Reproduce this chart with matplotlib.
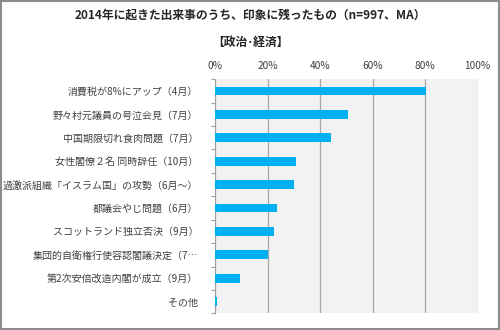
import matplotlib
matplotlib.use("Agg")
import matplotlib.pyplot as plt
from matplotlib.patches import Rectangle

plt.rcParams['font.family'] = ['Noto Sans CJK JP', 'DejaVu Sans']

# ─── DATA ─────────────────────────────────────────────────
categories = [
    "消費税が8%にアップ（4月）",
    "野々村元議員の号泣会見（7月）",
    "中国期限切れ食肉問題（7月）",
    "女性閣僚２名 同時辞任（10月）",
    "過激派組織「イスラム国」の攻勢（6月～）",
    "都議会やじ問題（6月）",
    "スコットランド独立否決（9月）",
    "集団的自衛権行使容認閣議決定（7…",
    "第2次安倍改造内閣が成立（9月）",
    "その他",
]
values = [80.3, 50.6, 44.0, 30.8, 30.2, 23.5, 22.6, 20.2, 9.6, 0.8]
xticks = [0, 20, 40, 60, 80, 100]
xtick_labels = [f"{t}%" for t in xticks]

title = "2014年に起きた出来事のうち、印象に残ったもの（n=997、MA）"
subtitle = "【政治･経済】"

BAR_COLOR = "#00b0f0"
TEXT_COLOR = "#404040"

# ─── PLOT ─────────────────────────────────────────────────
fig = plt.figure(figsize=(5, 3.3), dpi=100)
ax = fig.add_axes([0.43, 0.0506, 0.5254, 0.7091])
ax.set_facecolor("#f2f2f2")

ypos = list(range(len(categories)))
ax.barh(ypos, values, height=0.38, color=BAR_COLOR, zorder=3)

ax.set_xlim(0, 100)
ax.set_ylim(len(categories) - 0.5, -0.5)
ax.set_xticks(xticks)
ax.set_xticklabels(xtick_labels, fontsize=7.3, color=TEXT_COLOR)
ax.xaxis.tick_top()
ax.tick_params(axis="x", length=0, pad=6)

ax.set_yticks(ypos)
ax.set_yticklabels(categories, fontsize=7.2, color=TEXT_COLOR)
ax.set_yticks([i - 0.5 for i in range(len(categories) + 1)], minor=True)
ax.tick_params(axis="y", which="major", length=0, pad=12)
ax.tick_params(axis="y", which="minor", length=3, color="#a0a0a0", width=0.8)

ax.grid(axis="x", color="#a6a6a6", linewidth=0.9, zorder=1)
for side in ["top", "right", "bottom"]:
    ax.spines[side].set_visible(False)
ax.spines["left"].set_color("#a0a0a0")
ax.spines["left"].set_linewidth(0.8)

fig.text(0.5, 0.955, title, ha="center", va="center", fontsize=8.5,
         fontweight="bold", color="#262626")
fig.text(0.5, 0.873, subtitle, ha="center", va="center", fontsize=8.5,
         fontweight="bold", color="#262626")

# gray frame around the image
fig.patches.append(Rectangle((0.002, 0.003), 0.996, 0.994, transform=fig.transFigure,
                             fill=False, edgecolor="#8c8c8c", linewidth=1.5))

plt.savefig("out.png", dpi=100)
